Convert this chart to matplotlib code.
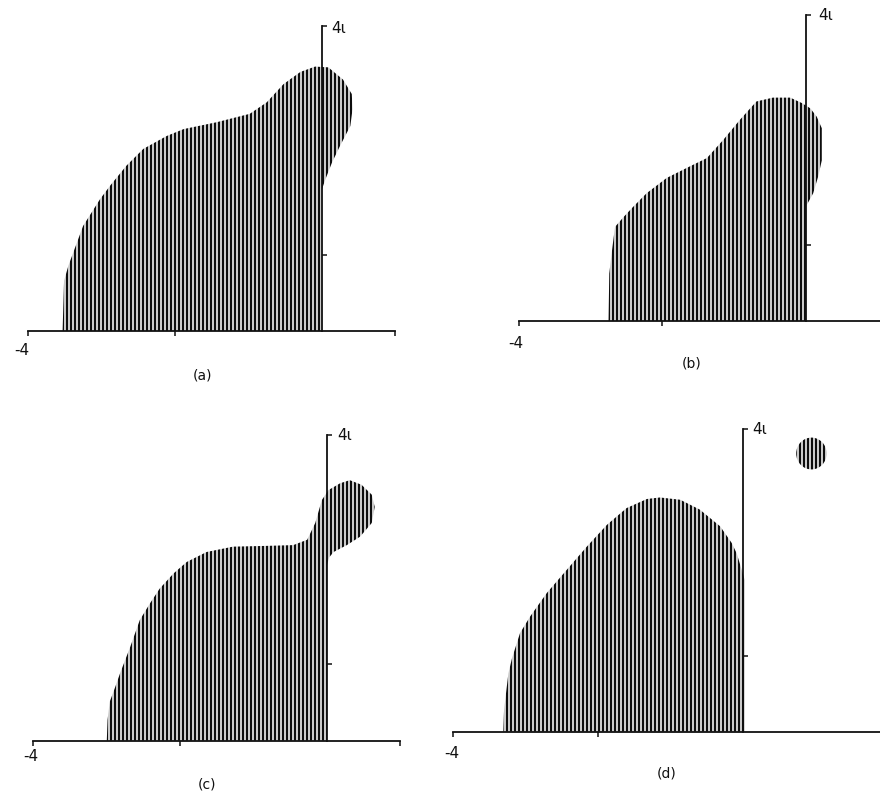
import numpy as np
import matplotlib
matplotlib.use("Agg")
import matplotlib.pyplot as plt
from matplotlib.patches import Polygon, Circle

# Boundaries of the shaded regions in the complex plane (Re, Im)
a_re = [-3.53, -3.51, -3.45, -3.25, -3.02, -2.88, -2.66, -2.43, -2.11, -1.88, -1.43, -0.98,
        -0.75, -0.52, -0.29, -0.09, 0.09, 0.29, 0.41, 0.42, 0.39, 0.25, 0.14, 0.05, 0.0, 0.0]
a_im = [0.0, 0.66, 0.86, 1.38, 1.73, 1.91, 2.17, 2.39, 2.56, 2.65, 2.74, 2.85,
        3.00, 3.24, 3.40, 3.47, 3.46, 3.30, 3.11, 2.91, 2.69, 2.43, 2.21, 1.99, 1.85, 0.0]

b_re = [-2.75, -2.74, -2.71, -2.66, -2.54, -2.41, -2.22, -1.94, -1.62, -1.38, -1.15, -0.92,
        -0.69, -0.46, -0.22, -0.06, 0.06, 0.15, 0.22, 0.22, 0.17, 0.10, 0.03, 0.0, 0.0]
b_im = [0.0, 0.62, 0.86, 1.23, 1.36, 1.49, 1.67, 1.87, 2.02, 2.13, 2.37, 2.63,
        2.87, 2.92, 2.92, 2.85, 2.78, 2.67, 2.52, 2.10, 1.89, 1.67, 1.55, 1.50, 0.0]

c_re = [-3.00, -2.99, -2.96, -2.89, -2.82, -2.68, -2.55, -2.41, -2.28, -2.09, -1.91, -1.64,
        -1.28, -0.82, -0.46, -0.27, -0.16, -0.07, 0.02, 0.18, 0.31, 0.47, 0.61, 0.65,
        0.61, 0.45, 0.27, 0.09, 0.03, 0.0, 0.0]
c_im = [0.0, 0.27, 0.51, 0.69, 0.88, 1.23, 1.58, 1.80, 1.99, 2.19, 2.34, 2.47,
        2.54, 2.55, 2.56, 2.63, 2.85, 3.15, 3.28, 3.37, 3.41, 3.35, 3.22, 3.06,
        2.85, 2.67, 2.56, 2.47, 2.40, 2.30, 0.0]

d_re = [-3.31, -3.30, -3.24, -3.19, -3.08, -2.94, -2.71, -2.44, -2.16, -1.88, -1.61,
        -1.33, -1.15, -0.87, -0.60, -0.32, -0.16, -0.09, -0.02, 0.02, 0.02]
d_im = [0.0, 0.29, 0.77, 0.97, 1.30, 1.52, 1.83, 2.13, 2.44, 2.73, 2.95,
        3.07, 3.09, 3.06, 2.93, 2.71, 2.49, 2.35, 2.13, 2.00, 0.0]

# Isolated disk in panel (d): centre and radius
d_disk_center = (0.94, 3.67)
d_disk_radius = 0.21

captions = ["(a)", "(b)", "(c)", "(d)"]
x_ticks = [[-4, -2, 1], [-4, -2], [-4, -2, 1], [-4, -2]]
y_ticks = [1, 4]

W, H = 880, 791
fig = plt.figure(figsize=(W / 100, H / 100), dpi=100)
fig.patch.set_facecolor("white")

# Per-panel placement: origin pixel (x, y from top), pixels per unit (x, y), axis right end
panels = [
    dict(o=(321.7, 331.0), s=(73.4, 76.2), xr=1.0,
         minus4=(-4.09, -0.26), top=(0.13, 3.97), cap=(-1.63, -0.59)),
    dict(o=(806.0, 321.0), s=(71.8, 76.5), xr=2.0,
         minus4=(-4.04, -0.29), top=(0.17, 4.00), cap=(-1.59, -0.55)),
    dict(o=(327.0, 740.7), s=(73.4, 76.4), xr=1.0,
         minus4=(-4.03, -0.21), top=(0.14, 3.99), cap=(-1.63, -0.57)),
    dict(o=(743.3, 731.7), s=(72.5, 75.8), xr=1.9,
         minus4=(-4.02, -0.29), top=(0.13, 3.99), cap=(-1.06, -0.55)),
]
regions = [(a_re, a_im), (b_re, b_im), (c_re, c_im), (d_re, d_im)]

X0, X1, Y0, Y1 = -4.6, 2.0, -0.85, 4.4
HATCH_PX = 4.0  # spacing of the vertical shading lines, in pixels


def shade(ax, patch, x_lo, x_hi, step):
    ax.add_patch(patch)
    xs = np.arange(x_lo, x_hi + step, step)
    lc = ax.vlines(xs, -0.05, 4.5, colors="#0d0d0d", linewidth=1.75)
    lc.set_clip_path(patch)


for i, p in enumerate(panels):
    ox, oy = p["o"]
    sx, sy = p["s"]
    left = (ox + X0 * sx) / W
    bottom = (H - (oy - Y0 * sy)) / H
    width = (X1 - X0) * sx / W
    height = (Y1 - Y0) * sy / H
    ax = fig.add_axes([left, bottom, width, height])
    ax.set_facecolor("none")
    ax.set_xlim(X0, X1)
    ax.set_ylim(Y0, Y1)

    re, im = regions[i]
    step = HATCH_PX / sx
    poly = Polygon(np.column_stack([re, im]), closed=True,
                   facecolor="none", edgecolor="none")
    shade(ax, poly, min(re), max(re), step)
    if i == 3:
        cx, cy = d_disk_center
        disk = Circle((cx, cy), d_disk_radius, facecolor="none", edgecolor="none")
        shade(ax, disk, cx - d_disk_radius, cx + d_disk_radius, step)

    # Real and imaginary axes
    for side in ("top", "left"):
        ax.spines[side].set_visible(False)
    ax.spines["bottom"].set_position(("data", 0))
    ax.spines["bottom"].set_bounds(-4, p["xr"])
    ax.spines["right"].set_position(("data", 0))
    ax.spines["right"].set_bounds(0, 4)
    for side in ("bottom", "right"):
        ax.spines[side].set_linewidth(1.3)
        ax.spines[side].set_color("#111111")
    ax.yaxis.tick_right()
    ax.set_xticks(x_ticks[i])
    ax.set_yticks(y_ticks)
    ax.set_xticklabels([])
    ax.set_yticklabels([])
    ax.tick_params(direction="out", length=3.5, width=1.1, colors="#111111")

    ax.text(*p["minus4"], "-4", ha="center", va="center", fontsize=11, color="#111111")
    ax.text(*p["top"], "4\u03b9", ha="left", va="center", fontsize=11, color="#111111")
    ax.text(*p["cap"], captions[i], ha="center", va="center", fontsize=10, color="#111111")

fig.savefig("out.png", dpi=100, facecolor="white")
